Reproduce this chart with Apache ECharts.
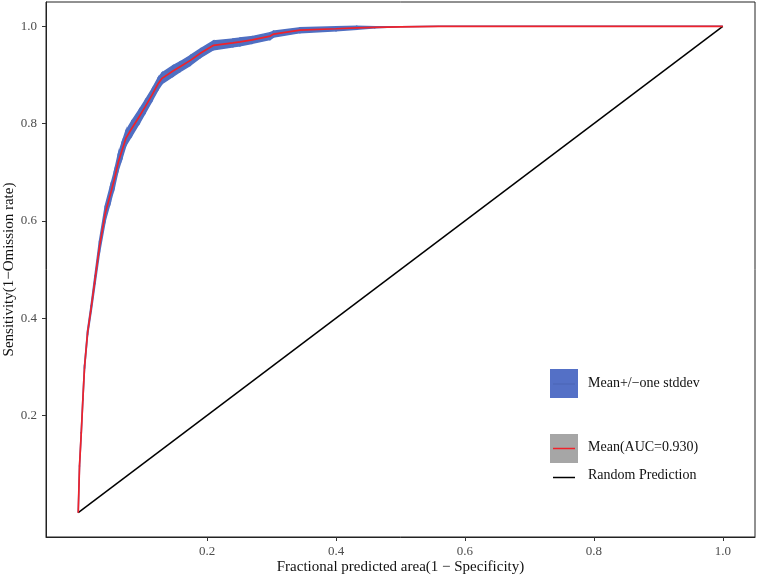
<!DOCTYPE html>
<html>
<head>
<meta charset="utf-8">
<script src="https://cdn.jsdelivr.net/npm/echarts@6/dist/echarts.min.js"></script>
<style>
  html, body { margin: 0; padding: 0; background: #fff; }
  #chart { width: 758px; height: 578px; }
</style>
</head>
<body>
<div id="chart"></div>
<script>
// fractional predicted area (1 - specificity)
const fpr = [0, 0.002, 0.0047, 0.0072, 0.0098, 0.0145, 0.020, 0.026, 0.033, 0.042, 0.050, 0.056, 0.062,
  0.068, 0.074, 0.083, 0.095, 0.104, 0.115, 0.124, 0.130, 0.147, 0.158, 0.174, 0.19, 0.21, 0.24, 0.251,
  0.27, 0.298, 0.303, 0.344, 0.40, 0.432, 0.46, 0.50, 0.56, 1.0]
// mean sensitivity
const meanSens = [0, 0.096, 0.164, 0.233, 0.30, 0.37, 0.42, 0.479, 0.547, 0.616, 0.655, 0.685, 0.72,
  0.745, 0.77, 0.79, 0.815, 0.835, 0.86, 0.882, 0.893, 0.908, 0.917, 0.930, 0.945, 0.961, 0.966, 0.968,
  0.972, 0.980, 0.984, 0.992, 0.995, 0.997, 0.998, 0.999, 1.0, 1.0]
// one standard deviation
const sdSens = [0, 0.001, 0.002, 0.003, 0.004, 0.005, 0.007, 0.009, 0.012, 0.015, 0.016, 0.016, 0.016,
  0.016, 0.015, 0.015, 0.014, 0.013, 0.012, 0.012, 0.011, 0.011, 0.01, 0.01, 0.009, 0.009, 0.008, 0.008,
  0.007, 0.007, 0.006, 0.005, 0.004, 0.003, 0.001, 0, 0, 0]
const randomLine = [[0, 0], [1, 1]]
const tickValues = [0.2, 0.4, 0.6, 0.8, 1.0]

const serif = '"Liberation Serif", "Times New Roman", serif'
const bandColor = '#4f6fc2'

// one quad per segment of the +/- sd band
const bandSegs = fpr.slice(0, -1).map((x, i) => [
  x, meanSens[i] - sdSens[i], meanSens[i] + sdSens[i],
  fpr[i + 1], meanSens[i + 1] - sdSens[i + 1], meanSens[i + 1] + sdSens[i + 1]
])
const meanLine = fpr.map((x, i) => [x, meanSens[i]])

const chart = echarts.init(document.getElementById('chart'))

const axisCommon = {
  type: 'value',
  min: -0.05,
  max: 1.05,
  axisLine: { show: true, onZero: false, lineStyle: { color: '#222', width: 1 } },
  axisTick: { show: true, length: 4, customValues: tickValues, lineStyle: { color: '#333', width: 1 } },
  axisLabel: {
    customValues: tickValues,
    color: '#4d4d4d',
    fontFamily: serif,
    fontSize: 13,
    formatter: v => v.toFixed(1)
  },
  splitLine: { show: false },
  nameLocation: 'middle',
  nameMoveOverlap: false,
  nameTextStyle: { color: '#111', fontFamily: serif, fontSize: 15 }
}

const option = {
  animation: false,
  backgroundColor: '#fff',
  grid: {
    left: 46, right: 3, top: 2, bottom: 41,
    outerBoundsMode: 'none',
    containLabel: false,
    show: true, borderColor: '#222', borderWidth: 1, backgroundColor: '#fff'
  },
  xAxis: Object.assign({}, axisCommon, {
    name: 'Fractional predicted area(1 − Specificity)',
    nameGap: 23,
    axisLabel: Object.assign({}, axisCommon.axisLabel, { margin: 8 })
  }),
  yAxis: Object.assign({}, axisCommon, {
    name: 'Sensitivity(1−Omission rate)',
    nameGap: 29,
    axisLabel: Object.assign({}, axisCommon.axisLabel, { margin: 9 })
  }),
  series: [
    {
      name: 'Mean+/−one stddev',
      type: 'custom',
      data: bandSegs,
      silent: true,
      renderItem: (params, api) => {
        const a = api.coord([api.value(0), api.value(1)])
        const b = api.coord([api.value(3), api.value(4)])
        const c = api.coord([api.value(3), api.value(5)])
        const d = api.coord([api.value(0), api.value(2)])
        return {
          type: 'polygon',
          shape: { points: [a, b, c, d] },
          style: { fill: bandColor, stroke: bandColor, lineWidth: 1.5 }
        }
      }
    },
    {
      name: 'Random Prediction',
      type: 'line',
      data: randomLine,
      symbol: 'none',
      lineStyle: { color: '#000', width: 1.5 }
    },
    {
      name: 'Mean(AUC=0.930)',
      type: 'line',
      data: meanLine,
      symbol: 'none',
      lineStyle: { color: '#f0222a', width: 1.7 }
    }
  ],
  graphic: [
    { type: 'rect', shape: { x: 550, y: 369, width: 28, height: 29 }, style: { fill: '#5470c6' } },
    { type: 'line', shape: { x1: 553, y1: 384, x2: 575, y2: 384 }, style: { stroke: '#4a64b4', lineWidth: 1 } },
    { type: 'text', left: 588, top: 376, style: { text: 'Mean+/−one stddev', font: '14px ' + serif, fill: '#111' } },
    { type: 'rect', shape: { x: 550, y: 434, width: 28, height: 29 }, style: { fill: '#a6a6a6' } },
    { type: 'line', shape: { x1: 553, y1: 448.5, x2: 575, y2: 448.5 }, style: { stroke: '#f0222a', lineWidth: 1.5 } },
    { type: 'text', left: 588, top: 440, style: { text: 'Mean(AUC=0.930)', font: '14px ' + serif, fill: '#111' } },
    { type: 'line', shape: { x1: 553, y1: 477.5, x2: 575, y2: 477.5 }, style: { stroke: '#000', lineWidth: 1.5 } },
    { type: 'text', left: 588, top: 468, style: { text: 'Random Prediction', font: '14px ' + serif, fill: '#111' } }
  ]
}

chart.setOption(option)
</script>
</body>
</html>
